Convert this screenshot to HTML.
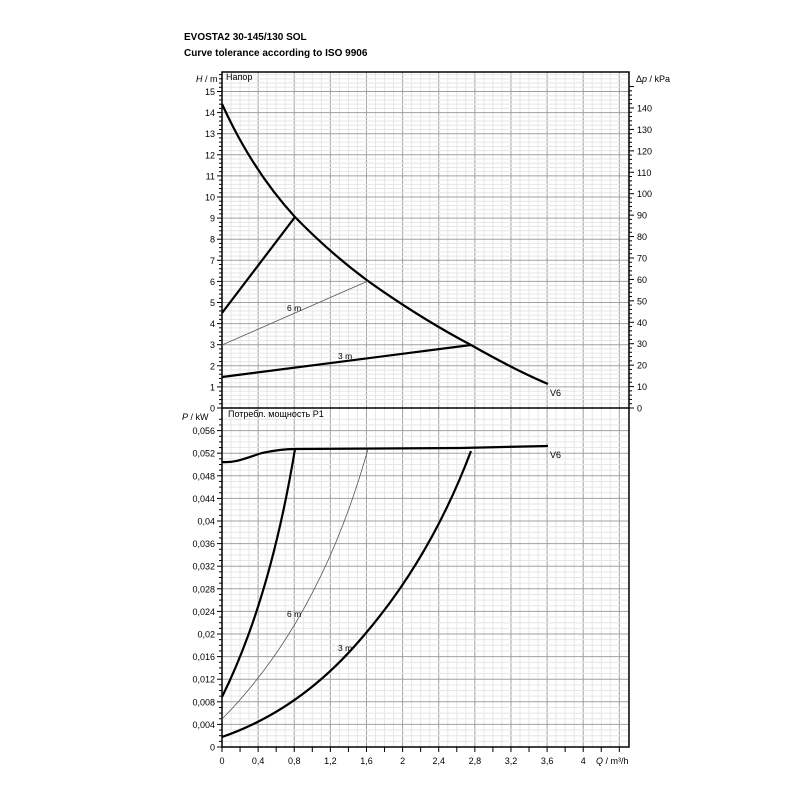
<!DOCTYPE html>
<html><head><meta charset="utf-8"><style>
body{margin:0;background:#fff;width:800px;height:800px;overflow:hidden}
svg{display:block;font-family:"Liberation Sans",Arial,sans-serif}
</style></head><body>
<svg id="s" width="800" height="800" xmlns="http://www.w3.org/2000/svg"></svg>
<script>
const X0=222,XS=90.3,XR=629;
const T0=408,TS=21.1,TT=72;
const B0=747,BS=5650,BT=408;
const X=q=>X0+q*XS;
let h='';
h+='<text x="184" y="40" font-size="10" font-weight="bold">EVOSTA2 30-145/130 SOL</text>';
h+='<text x="184" y="56" font-size="10" font-weight="bold">Curve tolerance according to ISO 9906</text>';
for(let i=0;i<=45;i++){let x=X(i*0.1);if(x>XR)break;let maj=i%4==0;
 h+=`<line x1="${x}" y1="${TT}" x2="${x}" y2="${B0}" stroke="${maj?'#a0a0a0':'#e6e6e6'}" stroke-width="1"/>`;}
for(let i=0;i<=79;i++){let y=T0-i*0.2*TS;if(y<TT)break;let maj=i%5==0;
 h+=`<line x1="${X0}" y1="${y}" x2="${XR}" y2="${y}" stroke="${maj?'#a0a0a0':'#e6e6e6'}"/>`;
 h+=`<line x1="${X0-(maj?5:3)}" y1="${y}" x2="${X0}" y2="${y}" stroke="#000"/>`;
 if(maj)h+=`<text x="${X0-7}" y="${y+3.5}" font-size="9" text-anchor="end">${i/5}</text>`;}
for(let k=0;k<=150;k+=2){let y=408-k*2.143;if(y<TT)break;let maj=k%10==0;
 h+=`<line x1="${XR}" y1="${y}" x2="${XR+(maj?5:3)}" y2="${y}" stroke="#000"/>`;
 if(maj&&k<=140)h+=`<text x="${XR+8}" y="${y+3.5}" font-size="9">${k}</text>`;}
for(let i=0;i<=58;i++){let v=i*0.001;let y=B0-v*BS;if(y<BT)break;let maj=i%4==0;
 h+=`<line x1="${X0}" y1="${y}" x2="${XR}" y2="${y}" stroke="${maj?'#a0a0a0':'#e6e6e6'}"/>`;
 h+=`<line x1="${X0-(maj?5:3)}" y1="${y}" x2="${X0}" y2="${y}" stroke="#000"/>`;
 if(maj){let s=i==0?'0':String(parseFloat(v.toFixed(3))).replace('.',',');
 h+=`<text x="${X0-7}" y="${y+3.5}" font-size="9" text-anchor="end">${s}</text>`;}}
for(let i=0;i<=22;i++){let x=X(i*0.2);if(x>XR+1)break;
 h+=`<line x1="${x}" y1="${B0}" x2="${x}" y2="${B0+5}" stroke="#000"/>`;
 if(i%2==0&&i<=20){let q=i*0.2;let s=String(parseFloat(q.toFixed(1))).replace('.',',');
 h+=`<text x="${x}" y="${B0+17}" font-size="9" text-anchor="middle">${s}</text>`;}}
h+=`<text x="596" y="${B0+17}" font-size="9"><tspan font-style="italic">Q</tspan> / m³/h</text>`;
h+=`<rect x="${X0}" y="${TT}" width="${XR-X0}" height="${B0-TT}" fill="none" stroke="#000" stroke-width="1.5"/>`;
h+=`<line x1="${X0}" y1="408" x2="${XR}" y2="408" stroke="#000" stroke-width="1.5"/>`;
h+='<text x="196" y="82" font-size="9"><tspan font-style="italic">H</tspan> / m</text>';
h+='<text x="226" y="80" font-size="9">Напор</text>';
h+='<text x="636" y="82" font-size="9">Δ<tspan font-style="italic">p</tspan> / kPa</text>';
h+='<text x="182" y="420" font-size="9"><tspan font-style="italic">P</tspan>  / kW</text>';
h+='<text x="228" y="417" font-size="9">Потребл. мощность P1</text>';
h+='<path d="M222,104 Q252,170 295,217 Q330,253 368,281 Q420,318 471,345 Q515,370 548,384" fill="none" stroke="#000" stroke-width="2.2"/>';
h+='<line x1="222" y1="313" x2="295" y2="217" stroke="#000" stroke-width="2.2"/>';
h+='<line x1="222" y1="345" x2="368" y2="281" stroke="#555" stroke-width="0.8"/>';
h+='<line x1="222" y1="377" x2="471" y2="345" stroke="#000" stroke-width="2.2"/>';
h+='<text x="287" y="311" font-size="8.5">6 m</text><text x="338" y="359" font-size="8.5">3 m</text><text x="550" y="396" font-size="9">V6</text>';
h+='<path d="M222,462 C236,463 246,458 262,453 C276,450 286,449 295,449 L460,448 L548,446" fill="none" stroke="#000" stroke-width="2.2"/>';
h+='<path d="M222,697 Q270,600 295,449" fill="none" stroke="#000" stroke-width="2.2"/>';
h+='<path d="M222,719 Q320,620 368,449" fill="none" stroke="#555" stroke-width="0.8"/>';
h+='<path d="M222,737 Q300,710 360,640 Q430,560 471,451" fill="none" stroke="#000" stroke-width="2.2"/>';
h+='<text x="287" y="617" font-size="8.5">6 m</text><text x="338" y="651" font-size="8.5">3 m</text><text x="550" y="458" font-size="9">V6</text>';
document.getElementById('s').innerHTML=h;
</script>
</body></html>
